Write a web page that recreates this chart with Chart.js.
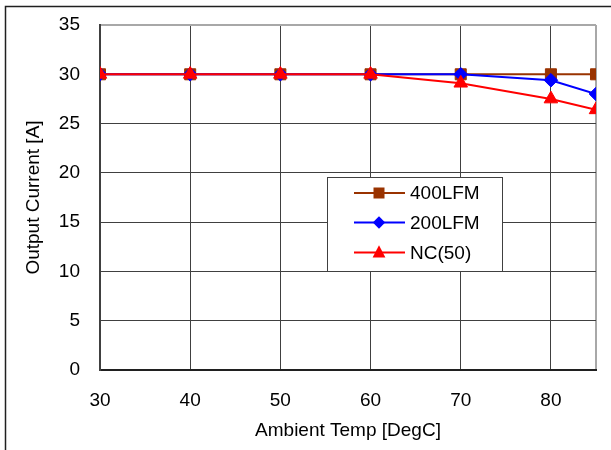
<!DOCTYPE html>
<html>
<head>
<meta charset="utf-8">
<script src="https://cdn.jsdelivr.net/npm/chart.js@4/dist/chart.umd.min.js"></script>
<style>
html,body{margin:0;padding:0;background:#fff;}
#wrap{width:611px;height:450px;position:relative;}
</style>
</head>
<body>
<div id="wrap"><canvas id="c" width="611" height="450"></canvas></div>
<script>
// ---- data ----
const temps = [30, 40, 50, 60, 70, 80, 85];
const lfm400 = [30, 30, 30, 30, 30, 30, 30];
const lfm200 = [30, 30, 30, 30, 30, 29.4, 28];
const nc50 = [30, 30, 30, 30, 29.1, 27.5, 26.4];
const seriesLabels = ['400LFM', '200LFM', 'NC(50)'];
const xTickLabels = [30, 40, 50, 60, 70, 80];
const xMin = 30, xMax = 85;
const yTickLabels = [0, 5, 10, 15, 20, 25, 30, 35];
const yMin = 0, yMax = 35;
const xTitle = 'Ambient Temp [DegC]';
const yTitle = 'Output Current [A]';

const FONT = "'Liberation Sans', Arial, sans-serif";
const FS = 19;
const colors = ['#993300', '#0000FF', '#FF0000'];
const shapes = ['rect', 'rectRot', 'triangle'];
const radii = [7.8, 6.8, 7.8];
const seriesData = [lfm400, lfm200, nc50];

const datasets = seriesData.map((arr, i) => ({
  label: seriesLabels[i],
  data: temps.map((t, j) => ({x: t, y: arr[j]})),
  borderColor: colors[i],
  backgroundColor: colors[i],
  borderWidth: 2,
  pointStyle: shapes[i],
  pointRadius: radii[i],
  pointHoverRadius: radii[i],
  pointBorderWidth: 1,
  pointBackgroundColor: colors[i],
  pointBorderColor: colors[i],
  order: 2 - i,
  tension: 0
}));

function drawMarker(ctx, shape, x, y, color) {
  ctx.save();
  ctx.fillStyle = color;
  ctx.beginPath();
  if (shape === 'rect') {
    ctx.rect(x - 5.5, y - 5.5, 11, 11);
  } else if (shape === 'rectRot') {
    ctx.moveTo(x, y - 6.2); ctx.lineTo(x + 6.2, y); ctx.lineTo(x, y + 6.2); ctx.lineTo(x - 6.2, y);
    ctx.closePath();
  } else {
    ctx.moveTo(x, y - 7.2); ctx.lineTo(x + 6.4, y + 5); ctx.lineTo(x - 6.4, y + 5);
    ctx.closePath();
  }
  ctx.fill();
  ctx.restore();
}

const framePlugin = {
  id: 'frame',
  beforeDraw(chart) {
    const ctx = chart.ctx;
    ctx.save();
    ctx.fillStyle = '#fff';
    ctx.fillRect(0, 0, chart.width, chart.height);
    ctx.strokeStyle = '#202020';
    ctx.lineWidth = 1.5;
    ctx.beginPath();
    ctx.moveTo(5.5, chart.height + 5);
    ctx.lineTo(5.5, 6.5);
    ctx.lineTo(chart.width + 5, 6.5);
    ctx.stroke();
    ctx.restore();
  }
};

const legendPlugin = {
  id: 'boxLegend',
  afterDatasetsDraw(chart) {
    const ctx = chart.ctx;
    const bx = 327.5, by = 177.5, bw = 175, bh = 94;
    ctx.save();
    ctx.fillStyle = '#fff';
    ctx.fillRect(bx, by, bw, bh);
    ctx.strokeStyle = '#404040';
    ctx.lineWidth = 1;
    ctx.strokeRect(bx, by, bw, bh);
    const rows = [193, 222.5, 252.5];
    chart.data.datasets.forEach((ds, i) => {
      const y = rows[i];
      ctx.strokeStyle = ds.borderColor;
      ctx.lineWidth = 2;
      ctx.beginPath();
      ctx.moveTo(354, y); ctx.lineTo(405, y);
      ctx.stroke();
      drawMarker(ctx, ds.pointStyle, 379, y, ds.borderColor);
      ctx.fillStyle = '#000';
      ctx.font = FS + 'px ' + FONT;
      ctx.textAlign = 'left';
      ctx.textBaseline = 'middle';
      ctx.fillText(ds.label, 410, y + 1);
    });
    ctx.restore();
  }
};

new Chart(document.getElementById('c'), {
  type: 'line',
  data: { datasets },
  options: {
    responsive: false,
    animation: false,
    devicePixelRatio: 1,
    layout: { padding: { top: 25, right: 15, left: 0, bottom: 0 } },
    plugins: {
      legend: { display: false },
      tooltip: { enabled: false }
    },
    scales: {
      x: {
        type: 'linear',
        min: xMin, max: xMax,
        afterBuildTicks: (s) => { s.ticks = xTickLabels.concat([xMax]).map(v => ({value: v})); },
        afterFit: (s) => { s.height = 80; s.paddingLeft = 0; s.paddingRight = 0; },
        ticks: {
          callback: (v) => xTickLabels.includes(v) ? String(v) : '',
          color: '#000',
          font: { family: FONT, size: FS },
          padding: 19,
          maxRotation: 0,
          autoSkip: false
        },
        grid: {
          drawTicks: false,
          color: (c) => c.tick && c.tick.value === xMax ? '#a8a8a8' : '#404040',
          lineWidth: (c) => c.tick && c.tick.value === xMax ? 2 : 1
        },
        border: { color: '#202020', width: 2 },
        title: {
          display: true, text: xTitle, color: '#000',
          font: { family: FONT, size: FS },
          padding: { top: 0, bottom: 8 }
        }
      },
      y: {
        min: yMin, max: yMax,
        afterBuildTicks: (s) => { s.ticks = yTickLabels.map(v => ({value: v})); },
        afterFit: (s) => { s.width = 100; s.paddingTop = 0; s.paddingBottom = 0; },
        ticks: {
          callback: (v) => String(v),
          color: '#000',
          font: { family: FONT, size: FS },
          padding: 20
        },
        grid: {
          drawTicks: false,
          color: (c) => c.tick && c.tick.value === yMax ? '#a8a8a8' : '#404040',
          lineWidth: (c) => c.tick && c.tick.value === yMax ? 2 : 1
        },
        border: { color: '#404040', width: 2 },
        title: {
          display: true, text: yTitle, color: '#000',
          font: { family: FONT, size: FS },
          padding: { top: 22, bottom: 0 }
        }
      }
    }
  },
  plugins: [framePlugin, legendPlugin]
});
</script>
</body>
</html>
